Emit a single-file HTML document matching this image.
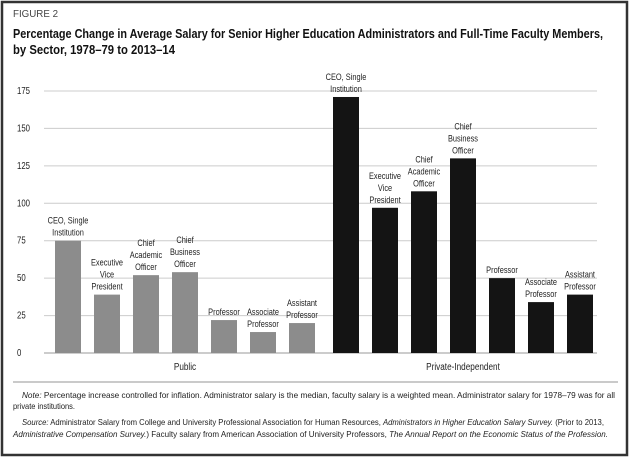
<!DOCTYPE html>
<html><head><meta charset="utf-8"><style>
html,body{margin:0;padding:0;background:#fff}
svg{display:block;font-family:"Liberation Sans Narrow","Liberation Sans",sans-serif}
</style></head><body>
<svg id="chart" width="630" height="458" viewBox="0 0 630 458">
<rect x="2" y="2" width="625" height="453" fill="#fff" stroke="#333" stroke-width="2.5"/>
<text x="13" y="17" font-size="10" fill="#444" textLength="45" lengthAdjust="spacingAndGlyphs">FIGURE 2</text>
<text x="13" y="38" font-size="13" font-weight="bold" fill="#111" textLength="590" lengthAdjust="spacingAndGlyphs">Percentage Change in Average Salary for Senior Higher Education Administrators and Full-Time Faculty Members,</text>
<text x="13" y="54" font-size="13" font-weight="bold" fill="#111" textLength="162" lengthAdjust="spacingAndGlyphs">by Sector, 1978–79 to 2013–14</text>
<g id="grid"></g><g id="bars"></g><g id="labels"></g>
<line x1="13" y1="382" x2="618" y2="382" stroke="#aaa" stroke-width="1.2"/>
<text x="22" y="398" font-size="8.5" fill="#222" textLength="593" lengthAdjust="spacingAndGlyphs"><tspan font-style="italic">Note:</tspan> Percentage increase controlled for inflation. Administrator salary is the median, faculty salary is a weighted mean. Administrator salary for 1978–79 was for all</text>
<text x="13" y="409" font-size="8.5" fill="#222" textLength="62" lengthAdjust="spacingAndGlyphs">private institutions.</text>
<text x="22" y="425" font-size="8.5" fill="#222" textLength="582" lengthAdjust="spacingAndGlyphs"><tspan font-style="italic">Source:</tspan> Administrator Salary from College and University Professional Association for Human Resources, <tspan font-style="italic">Administrators in Higher Education Salary Survey.</tspan> (Prior to 2013,</text>
<text x="13" y="437" font-size="8.5" fill="#222" textLength="595" lengthAdjust="spacingAndGlyphs"><tspan font-style="italic">Administrative Compensation Survey.</tspan>) Faculty salary from American Association of University Professors, <tspan font-style="italic">The Annual Report on the Economic Status of the Profession.</tspan></text>
</svg>
<script>
const categories = [["CEO, Single","Institution"],["Executive","Vice","President"],["Chief","Academic","Officer"],["Chief","Business","Officer"],["Professor"],["Associate","Professor"],["Assistant","Professor"]];
const groups = ["Public","Private-Independent"];
const publicValues = [75, 39, 52, 54, 22, 14, 20];
const privateValues = [171, 97, 108, 130, 50, 34, 39];
const yTicks = [0, 25, 50, 75, 100, 125, 150, 175];

const NS = "http://www.w3.org/2000/svg";
const y0 = 353, yTop = 91, yMax = 175;
function yScale(v){ return y0 - (v / yMax) * (y0 - yTop); }
function xScale(g, i){ return (g === 0 ? 55 : 333) + i * 39; }
const bw = 26;
function mk(tag, attrs, parent){ const e = document.createElementNS(NS, tag); for (const k in attrs) e.setAttribute(k, attrs[k]); parent.appendChild(e); return e; }
function narrowText(x, y, size, anchor, parent){
  return mk('text', {x: 0, y: 0, 'font-size': size, fill: '#222', 'text-anchor': anchor, transform: 'translate(' + x + ',' + y + ') scale(0.78,1)'}, parent);
}
const grid = document.getElementById('grid'), bars = document.getElementById('bars'), labels = document.getElementById('labels');
yTicks.forEach(t => {
  const y = yScale(t);
  const l = mk('line', {x1: 44, x2: 597, y1: y, y2: y, stroke: t === 0 ? '#999' : '#ccc', 'stroke-width': 1}, grid);
  
  
  const tx = narrowText(17, y + 3, 10, 'start', grid);
  tx.textContent = t;
  
  
});
[publicValues, privateValues].forEach((vals, g) => {
  vals.forEach((v, i) => {
    const x = xScale(g, i), y = yScale(v);
    const r = mk('rect', {x: x, y: y, width: bw, height: y0 - y, fill: g === 0 ? '#8c8c8c' : '#141414'}, bars);
    
    
    const lines = categories[i];
    lines.forEach((s, k) => {
      const t = narrowText(x + bw / 2, y - 5 - (lines.length - 1 - k) * 12, 9.5, 'middle', labels);
      t.textContent = s;
      
      
    });
  });
  const gx = (xScale(g, 0) + xScale(g, 6) + bw) / 2;
  const gt = narrowText(gx, 370, 10.5, 'middle', labels);
  gt.textContent = groups[g];
  
  
});
</script>
</body></html>
